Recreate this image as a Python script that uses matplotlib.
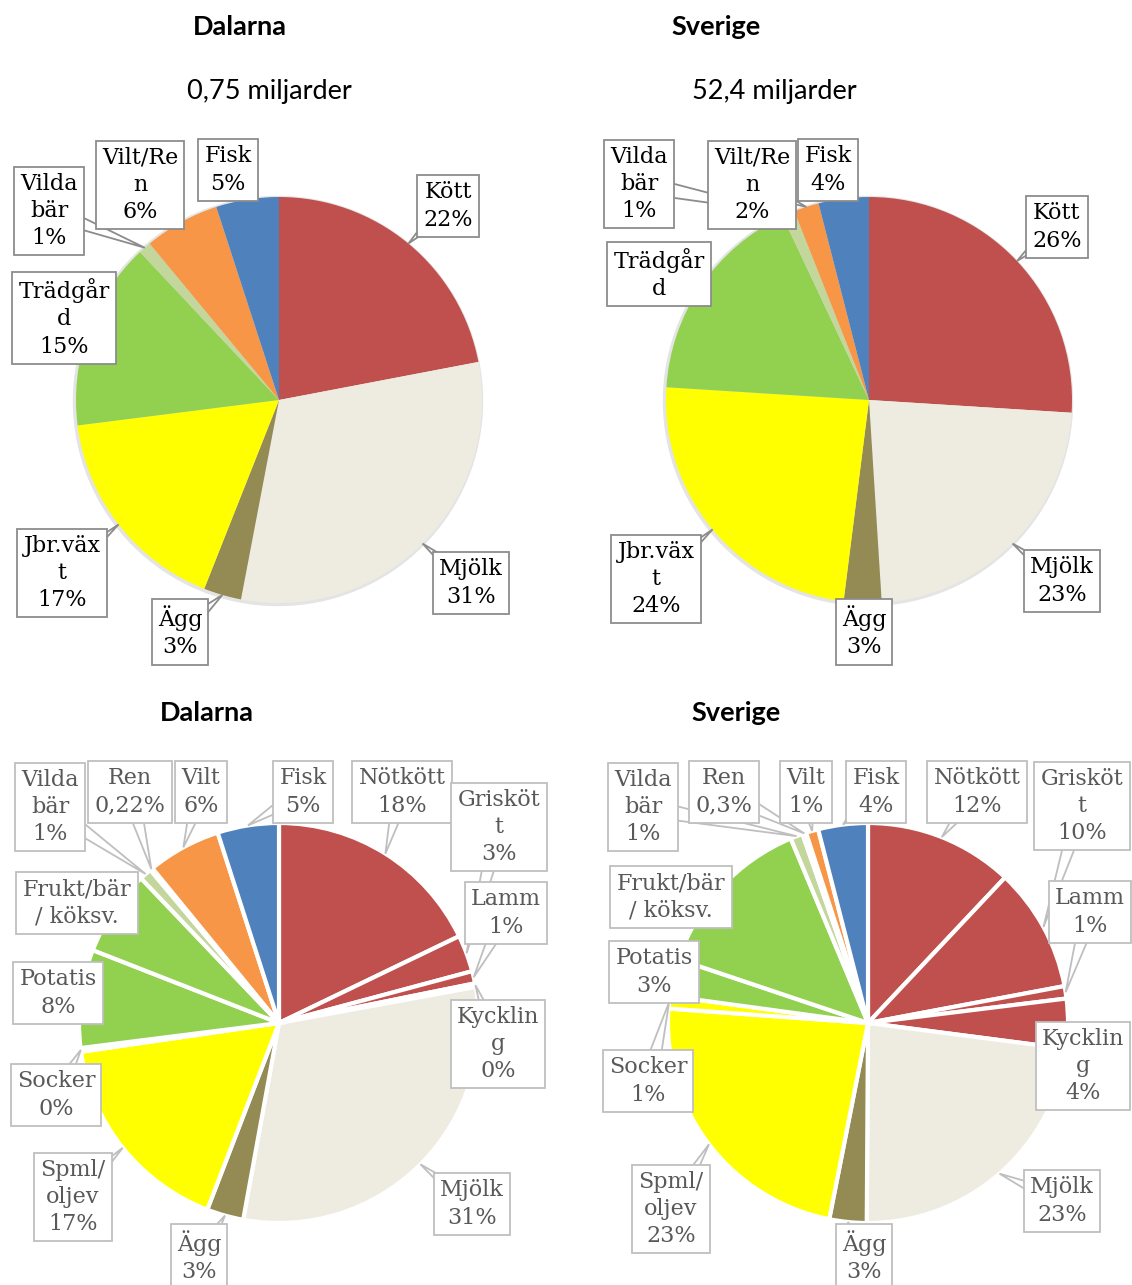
import numpy as np
import matplotlib.pyplot as plt
from matplotlib.patches import Polygon

W, H = 1132, 1285

# --- data ---
top_names = ['Kött', 'Mjölk', 'Ägg', 'Jbr.väx\nt', 'Trädgår\nd', 'Vilda\nbär', 'Vilt/Re\nn', 'Fisk']
top_colors = ['#C0504D', '#EEECE1', '#948A54', '#FFFF00', '#92D050', '#C3D69B', '#F79646', '#4F81BD']
dalarna_top = [22, 31, 3, 17, 15, 1, 6, 5]
sverige_top = [26, 23, 3, 24, 17, 1, 2, 4]
dalarna_top_pct = ['22%', '31%', '3%', '17%', '15%', '1%', '6%', '5%']
sverige_top_pct = ['26%', '23%', '3%', '24%', '', '1%', '2%', '4%']

bottom_names = ['Nötkött', 'Grisköt\nt', 'Lamm', 'Kycklin\ng', 'Mjölk', 'Ägg', 'Spml/\noljev',
                'Socker', 'Potatis', 'Frukt/bär\n/ köksv.', 'Vilda\nbär', 'Ren', 'Vilt', 'Fisk']
bottom_colors = ['#C0504D'] * 4 + ['#EEECE1', '#948A54', '#FFFF00', '#FFFF00', '#92D050', '#92D050',
                                   '#C3D69B', '#F79646', '#F79646', '#4F81BD']
dalarna_bottom = [18, 3, 1, 0.3, 31, 3, 17, 0.3, 8, 7, 1, 0.22, 6, 5]
sverige_bottom = [12, 10, 1, 4, 23, 3, 23, 1, 3, 13.5, 1, 0.3, 1, 4]
dalarna_bottom_pct = ['18%', '3%', '1%', '0%', '31%', '3%', '17%', '0%', '8%', '', '1%', '0,22%', '6%', '5%']
sverige_bottom_pct = ['12%', '10%', '1%', '4%', '23%', '3%', '23%', '1%', '3%', '', '1%', '0,3%', '1%', '4%']

# --- layout (pixel positions in the picture) ---
# pie centre x, centre y, radius
pies = {
    'tl': (279, 400, 203),
    'tr': (869, 400, 203),
    'bl': (279, 1023, 200),
    'br': (868, 1023, 200),
}
# label box centres
tl_pos = [(448, 206), (471, 583), (180, 632), (62, 573), (64, 318), (49, 211), (140, 185), (228, 170)]
tr_pos = [(1057, 227), (1062, 581), (864, 632), (656, 579), (659, 274), (639, 184), (752, 185), (828, 170)]
bl_pos = [(402, 792), (499, 827), (506, 913), (498, 1044), (472, 1204), (199, 1257), (73, 1197),
          (56, 1095), (58, 993), (77, 903), (50, 807), (130, 792), (201, 792), (303, 792)]
br_pos = [(977, 792), (1082, 806), (1090, 912), (1083, 1066), (1062, 1201), (864, 1257), (671, 1209),
          (648, 1081), (654, 972), (671, 897), (643, 807), (724, 792), (806, 792), (876, 792)]

fig = plt.figure(figsize=(W / 100, H / 100), dpi=100)
ax = fig.add_axes([0, 0, 1, 1])

label_font = 'DejaVu Serif'


def draw_pie(key, vals, colors, names, pcts, pos, top):
    cx, cy, r = pies[key]
    cy = H - cy
    if top:
        # soft shadow rim
        ax.add_patch(plt.Circle((cx - 1, cy - 1), r + 1.5, color='#e4e4e4', zorder=0))
        wp = dict(linewidth=0)
        tcol, ecol = 'black', '#8c8c8c'
    else:
        wp = dict(edgecolor='white', linewidth=3)
        tcol, ecol = '#595959', '#bfbfbf'
    wedges, _ = ax.pie(vals, colors=colors, startangle=90, counterclock=False,
                       center=(cx, cy), radius=r, wedgeprops=wp)
    for w, name, pct, (px, py) in zip(wedges, names, pcts, pos):
        mid = np.deg2rad((w.theta1 + w.theta2) / 2)
        tip = np.array([cx + r * np.cos(mid), cy + r * np.sin(mid)])
        base = np.array([px, H - py])
        d = tip - base
        n = np.array([-d[1], d[0]]) / np.hypot(*d) * 9
        # callout pointer, hidden under the box where the box covers it
        ax.add_patch(Polygon([base + n, tip, base - n], closed=True, fc='white', ec=ecol,
                             lw=1.3, zorder=4, joinstyle='miter'))
        txt = name if pct == '' else name + '\n' + pct
        ax.text(px, H - py, txt, ha='center', va='center',
                fontsize=16, family=label_font, color=tcol, linespacing=1.3,
                bbox=dict(boxstyle='square,pad=0.28', fc='white', ec=ecol, lw=1.3),
                zorder=5)


draw_pie('tl', dalarna_top, top_colors, top_names, dalarna_top_pct, tl_pos, True)
draw_pie('tr', sverige_top, top_colors, top_names, sverige_top_pct, tr_pos, True)
draw_pie('bl', dalarna_bottom, bottom_colors, bottom_names, dalarna_bottom_pct, bl_pos, False)
draw_pie('br', sverige_bottom, bottom_colors, bottom_names, sverige_bottom_pct, br_pos, False)

ax.set_xlim(0, W)
ax.set_ylim(0, H)
ax.set_aspect('auto')
ax.axis('off')

title_font = 'Lato'
fig.text(240 / W, 1 - 27 / H, 'Dalarna', ha='center', va='center', fontsize=19.5, weight='bold', family=title_font)
fig.text(716 / W, 1 - 27 / H, 'Sverige', ha='center', va='center', fontsize=19.5, weight='bold', family=title_font)
fig.text(269 / W, 1 - 91 / H, '0,75 miljarder', ha='center', va='center', fontsize=19.5, family=title_font)
fig.text(774 / W, 1 - 91 / H, '52,4 miljarder', ha='center', va='center', fontsize=19.5, family=title_font)
fig.text(207 / W, 1 - 713 / H, 'Dalarna', ha='center', va='center', fontsize=19.5, weight='bold', family=title_font)
fig.text(736 / W, 1 - 713 / H, 'Sverige', ha='center', va='center', fontsize=19.5, weight='bold', family=title_font)

fig.savefig('out.png', dpi=100)
